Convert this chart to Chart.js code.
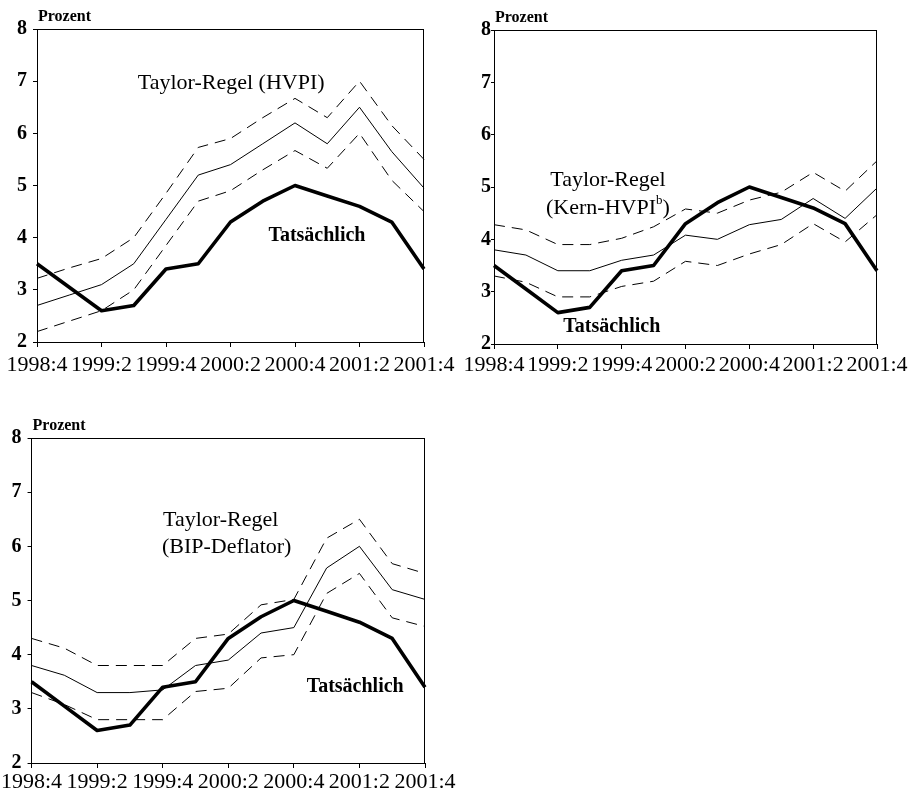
<!DOCTYPE html>
<html><head><meta charset="utf-8">
<script src="https://cdn.jsdelivr.net/npm/chart.js@4"></script>
<style>
html,body{margin:0;padding:0;background:#fff;}
#wrap{position:relative;width:917px;height:798px;overflow:hidden;}
canvas{position:absolute;left:0;top:0;}
</style></head><body>
<div id="wrap">
<canvas id="c1" width="917" height="798"></canvas>
<canvas id="c2" width="917" height="798"></canvas>
<canvas id="c3" width="917" height="798"></canvas>
</div>
<script>
// ---- data ----
const quarters = ['1998:4','1999:1','1999:2','1999:3','1999:4','2000:1','2000:2','2000:3','2000:4','2001:1','2001:2','2001:3','2001:4'];
const yTicks = [2, 3, 4, 5, 6, 7, 8];
const actual = [3.5, 3.05, 2.6, 2.7, 3.4, 3.5, 4.3, 4.7, 5.0, 4.8, 4.6, 4.3, 3.4];

const hvpiMid  = [2.7, 2.9, 3.1, 3.5, 4.35, 5.2, 5.4, 5.8, 6.2, 5.8, 6.5, 5.65, 4.95];
const hvpiHigh = [3.22, 3.42, 3.6, 4.0, 4.85, 5.73, 5.9, 6.3, 6.67, 6.3, 7.0, 6.15, 5.5];
const hvpiLow  = [2.2, 2.4, 2.6, 3.0, 3.85, 4.7, 4.9, 5.3, 5.67, 5.33, 6.0, 5.1, 4.5];

const coreMid  = [3.8, 3.7, 3.4, 3.4, 3.6, 3.7, 4.08, 4.0, 4.28, 4.38, 4.78, 4.4, 4.98];
const coreHigh = [4.28, 4.18, 3.9, 3.9, 4.02, 4.24, 4.58, 4.5, 4.75, 4.9, 5.28, 4.92, 5.5];
const coreLow  = [3.3, 3.18, 2.9, 2.9, 3.1, 3.2, 3.58, 3.5, 3.72, 3.9, 4.3, 3.95, 4.47];

const bipMid  = [3.8, 3.62, 3.3, 3.3, 3.35, 3.8, 3.9, 4.4, 4.5, 5.6, 6.0, 5.2, 5.02];
const bipHigh = [4.3, 4.12, 3.8, 3.8, 3.8, 4.3, 4.38, 4.92, 5.02, 6.15, 6.5, 5.68, 5.5];
const bipLow  = [3.3, 3.08, 2.8, 2.8, 2.8, 3.32, 3.38, 3.94, 4.0, 5.13, 5.5, 4.68, 4.52];

// ---- drawing ----
const SERIF = '"Liberation Serif", "DejaVu Serif", serif';

const framePlugin = {
  id: 'frame',
  afterDraw(chart, args, opts) {
    const ctx = chart.ctx, a = chart.chartArea;
    const xs = chart.scales.x, ys = chart.scales.y;
    ctx.save();
    ctx.strokeStyle = '#000';
    ctx.lineWidth = 1;
    ctx.beginPath();
    ctx.moveTo(a.left, Math.round(a.top) + 0.5);
    ctx.lineTo(a.right, Math.round(a.top) + 0.5);
    ctx.moveTo(Math.round(a.right) - 0.5, a.top);
    ctx.lineTo(Math.round(a.right) - 0.5, a.bottom);
    ctx.stroke();
    ctx.fillStyle = '#000';
    ctx.font = 'bold 16px ' + SERIF;
    ctx.textAlign = 'left';
    ctx.textBaseline = 'alphabetic';
    ctx.fillText('Prozent', a.left + 1, a.top - 8);
    ctx.textBaseline = 'middle';
    for (const n of opts.notes) {
      const px = xs.getPixelForValue(n.x);
      const py = ys.getPixelForValue(n.y);
      let total = 0;
      const widths = n.parts.map(p => {
        ctx.font = p.sup ? (n.weight + ' 13px ' + SERIF) : (n.weight + ' ' + n.size + 'px ' + SERIF);
        const w = ctx.measureText(p.t).width;
        total += w;
        return w;
      });
      let cx = px - total / 2;
      ctx.textAlign = 'left';
      n.parts.forEach((p, i) => {
        ctx.font = p.sup ? (n.weight + ' 13px ' + SERIF) : (n.weight + ' ' + n.size + 'px ' + SERIF);
        ctx.fillText(p.t, cx, p.sup ? py - 7 : py);
        cx += widths[i];
      });
    }
    ctx.restore();
  }
};

function makeChart(id, mid, high, low, box, st, notes) {
  const dashed = (data) => ({
    data, borderColor: '#000', borderWidth: 1, borderDash: [11, 7],
    pointRadius: 0, tension: 0, fill: false, clip: false
  });
  return new Chart(document.getElementById(id), {
    type: 'line',
    data: {
      labels: quarters,
      datasets: [
        { data: actual, borderColor: '#000', borderWidth: 3.6, pointRadius: 0, tension: 0,
          fill: false, clip: false, borderJoinStyle: 'round' },
        { data: mid, borderColor: '#000', borderWidth: 1, pointRadius: 0, tension: 0, fill: false, clip: false },
        dashed(high),
        dashed(low)
      ]
    },
    options: {
      responsive: false,
      animation: false,
      devicePixelRatio: 1,
      events: [],
      layout: { padding: { left: box.L - 28, top: box.T, right: 917 - box.R, bottom: 798 - box.B - 40 } },
      plugins: { legend: { display: false }, tooltip: { enabled: false }, frame: { notes } },
      scales: {
        x: {
          type: 'category',
          afterFit: s => { s.height = 40; },
          border: { display: true, color: '#000', width: 1 },
          grid: {
            drawOnChartArea: false, drawTicks: true, tickLength: 5, lineWidth: 1,
            color: c => (c.index % 2 === 0 ? '#000' : 'rgba(0,0,0,0)')
          },
          ticks: {
            autoSkip: false, maxRotation: 0, minRotation: 0, color: '#000',
            padding: st.xPad,
            font: { family: SERIF, size: 22 },
            callback: (v, i) => (i % 2 === 0 ? quarters[i] : '')
          }
        },
        y: {
          min: yTicks[0], max: yTicks[yTicks.length - 1],
          afterFit: s => { s.width = 28; },
          afterBuildTicks: s => { s.ticks = yTicks.map(v => ({ value: v })); },
          border: { display: true, color: '#000', width: 1 },
          grid: { drawOnChartArea: false, drawTicks: true, tickLength: st.yLen, color: '#000' },
          ticks: {
            color: '#000', padding: st.yPad,
            font: { family: SERIF, size: 20, weight: 'bold' }
          }
        }
      }
    },
    plugins: [framePlugin]
  });
}

makeChart('c1', hvpiMid, hvpiHigh, hvpiLow,
  { L: 37, R: 424, T: 29, B: 342 }, { xPad: 5, yPad: 6, yLen: 4 },
  [
    { x: 6.02, y: 6.96, size: 22, weight: 'normal', parts: [{ t: 'Taylor-Regel (HVPI)' }] },
    { x: 8.68, y: 4.03, size: 20, weight: 'bold', parts: [{ t: 'Tatsächlich' }] }
  ]);

makeChart('c2', coreMid, coreHigh, coreLow,
  { L: 494, R: 877, T: 30, B: 344 }, { xPad: 3, yPad: 0, yLen: 3 },
  [
    { x: 3.57, y: 5.13, size: 22, weight: 'normal', parts: [{ t: 'Taylor-Regel' }] },
    { x: 3.57, y: 4.6, size: 22, weight: 'normal', parts: [{ t: '(Kern-HVPI' }, { t: 'b', sup: true }, { t: ')' }] },
    { x: 3.69, y: 2.32, size: 20, weight: 'bold', parts: [{ t: 'Tatsächlich' }] }
  ]);

makeChart('c3', bipMid, bipHigh, bipLow,
  { L: 30, R: 425, T: 438, B: 763 }, { xPad: 1, yPad: 6, yLen: 4 },
  [
    { x: 5.77, y: 6.48, size: 22, weight: 'normal', parts: [{ t: 'Taylor-Regel' }] },
    { x: 5.95, y: 5.99, size: 22, weight: 'normal', parts: [{ t: '(BIP-Deflator)' }] },
    { x: 9.87, y: 3.41, size: 20, weight: 'bold', parts: [{ t: 'Tatsächlich' }] }
  ]);
</script>
</body></html>
